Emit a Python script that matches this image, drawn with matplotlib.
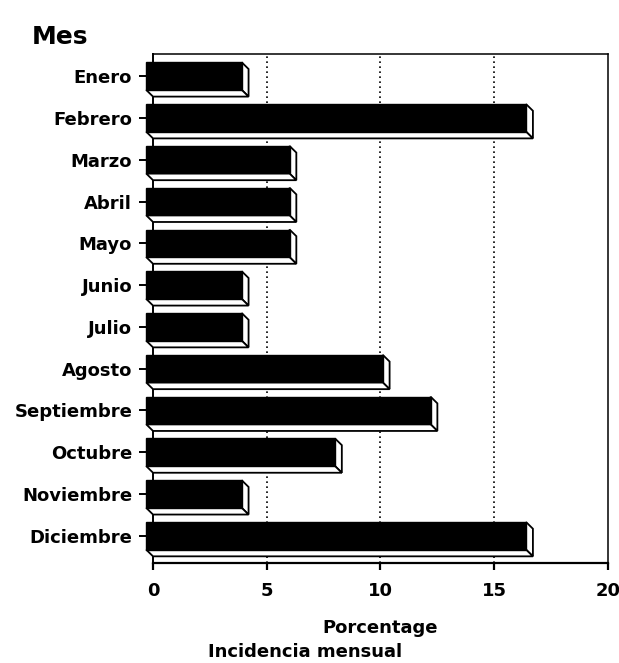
import matplotlib.pyplot as plt
from matplotlib.patches import Polygon

meses = ['Enero', 'Febrero', 'Marzo', 'Abril', 'Mayo', 'Junio', 'Julio',
         'Agosto', 'Septiembre', 'Octubre', 'Noviembre', 'Diciembre']
porcentaje = [4.2, 16.7, 6.3, 6.3, 6.3, 4.2, 4.2, 10.4, 12.5, 8.3, 4.2, 16.7]
x_ticks = [0, 5, 10, 15, 20]

# depth of the 3D effect (x in data units, y in rows)
dx = 0.3
dy = 0.16
h = 0.66

fig = plt.figure(figsize=(6.19, 6.63), dpi=100)
ax = fig.add_axes([0.2472, 0.1508, 0.7350, 0.7678])

pos = list(range(len(meses)))

for x in x_ticks[1:-1]:
    ax.axvline(x, color='black', linestyle=(0, (1, 2)), linewidth=1.2, zorder=1)

# front faces sit up-left of the back plane; the back edge marks the value
ax.barh(pos, [v for v in porcentaje], height=h, left=-dx,
        color='black', edgecolor='black', linewidth=1, zorder=3, clip_on=False)

for p, v in zip(pos, porcentaje):
    top = p - h / 2
    bot = p + h / 2
    side = Polygon([(v - dx, top), (v, top + dy), (v, bot + dy), (v - dx, bot)],
                   closed=True, facecolor='white', edgecolor='black',
                   linewidth=1.3, zorder=2.9, clip_on=False)
    under = Polygon([(-dx, bot), (v - dx, bot), (v, bot + dy), (0, bot + dy)],
                    closed=True, facecolor='white', edgecolor='black',
                    linewidth=1.3, zorder=2.9, clip_on=False)
    ax.add_patch(side)
    ax.add_patch(under)

ax.set_xlim(0, 20)
ax.set_ylim(11.65, -0.53)
ax.set_xticks(x_ticks)
ax.set_yticks(pos)
ax.set_yticklabels(meses)

for s in ax.spines.values():
    s.set_linewidth(1.1)
ax.spines['bottom'].set_linewidth(1.6)
ax.spines['left'].set_linewidth(1.4)

ax.tick_params(axis='y', length=10, width=1.4, pad=5, labelsize=13)
ax.tick_params(axis='x', length=5, width=1.6, pad=9, labelsize=13)
for lab in ax.get_xticklabels() + ax.get_yticklabels():
    lab.set_fontweight('bold')

ax.set_xlabel('Porcentage', fontsize=13, fontweight='bold', labelpad=13)
fig.text(32 / 619, 1 - 37 / 663, 'Mes', fontsize=18, fontweight='bold',
         ha='left', va='center')
fig.text(208 / 619, 1 - 652 / 663, 'Incidencia mensual', fontsize=13,
         fontweight='bold', ha='left', va='center')

fig.savefig('out.png', dpi=100)
